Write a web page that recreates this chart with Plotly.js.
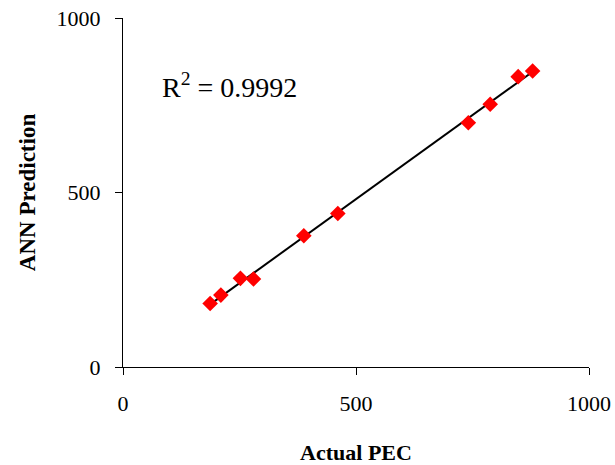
<!DOCTYPE html>
<html>
<head>
<meta charset="utf-8">
<script src="https://cdn.plot.ly/plotly-3.0.1.min.js"></script>
<style>html,body{margin:0;padding:0;background:#fff;}#chart{width:615px;height:465px;}</style>
</head>
<body>
<div id="chart"></div>
<script>
const actualPEC = [187, 210, 252, 280, 388, 461, 741, 788, 848, 879];
const annPrediction = [182, 206, 254, 252, 376, 440, 700, 753, 832, 848];
const xTicks = [0, 500, 1000];
const yTicks = [0, 500, 1000];
const r2Label = 'R<sup>2</sup> = 0.9992';

// linear least-squares trendline from the data
const n = actualPEC.length;
const mx = actualPEC.reduce((a, b) => a + b, 0) / n;
const my = annPrediction.reduce((a, b) => a + b, 0) / n;
let sxy = 0, sxx = 0;
for (let i = 0; i < n; i++) {
  sxy += (actualPEC[i] - mx) * (annPrediction[i] - my);
  sxx += (actualPEC[i] - mx) ** 2;
}
const slope = sxy / sxx;
const intercept = my - slope * mx;
const xMin = Math.min(...actualPEC), xMax = Math.max(...actualPEC);
const trendX = [xMin, xMax];
const trendY = trendX.map(x => intercept + slope * x);

const font = '"Liberation Serif"';

const data = [
  {
    x: trendX, y: trendY, type: 'scatter', mode: 'lines',
    line: {color: '#000', width: 2}, hoverinfo: 'skip', showlegend: false
  },
  {
    x: actualPEC, y: annPrediction, type: 'scatter', mode: 'markers',
    marker: {symbol: 'diamond', color: '#ff0000', size: 12, line: {width: 0}},
    showlegend: false
  }
];

const axisCommon = {
  range: [0, 1000], showgrid: false, zeroline: false,
  showline: true, linecolor: '#000', linewidth: 1,
  ticks: 'outside', ticklen: 7, tickcolor: '#000', tickwidth: 1,
  tickfont: {family: font, size: 22, color: '#000'}
};

const layout = {
  width: 615, height: 465,
  margin: {l: 123, r: 26, t: 18, b: 98},
  paper_bgcolor: '#fff', plot_bgcolor: '#fff',
  font: {family: font, color: '#000'},
  xaxis: Object.assign({}, axisCommon, {
    tickvals: xTicks, ticktext: xTicks.map(String), ticklabelstandoff: 10,
    title: {text: '<b>Actual PEC</b>', font: {family: font, size: 22, color: '#000'}, standoff: 30}
  }),
  yaxis: Object.assign({}, axisCommon, {
    tickvals: yTicks, ticktext: yTicks.map(String), ticklabelstandoff: 10,
    title: {text: '<b>ANN Prediction</b>', font: {family: font, size: 23, color: '#000'}, standoff: 14}
  }),
  annotations: [{
    x: 79, y: 807, xref: 'x', yref: 'y', xanchor: 'left', yanchor: 'middle',
    text: r2Label, showarrow: false,
    font: {family: font, size: 28, color: '#000'}
  }]
};

Plotly.newPlot('chart', data, layout, {displayModeBar: false, staticPlot: true});
</script>
</body>
</html>
